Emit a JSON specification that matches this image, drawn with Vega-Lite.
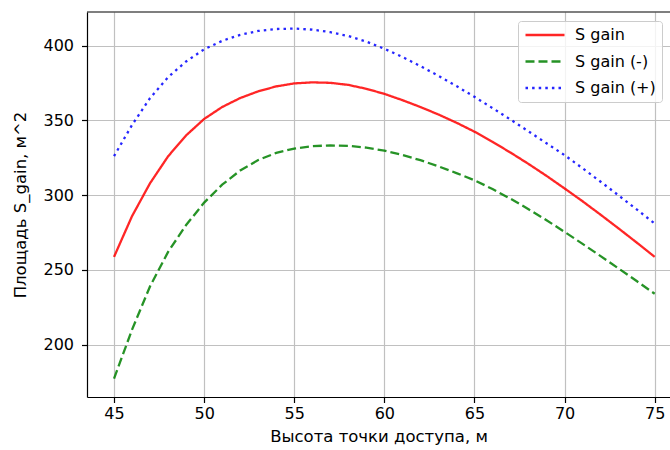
{
  "$schema": "https://vega.github.io/schema/vega-lite/v6.json",
  "width": 583,
  "height": 385,
  "autosize": {"type": "none"},
  "padding": {"left": 87, "top": 12, "right": 0, "bottom": 53},
  "background": "white",
  "config": {
    "view": {"stroke": null},
    "font": "DejaVu Sans",
    "axis": {
      "domainColor": "black",
      "domainWidth": 1.2,
      "tickColor": "black",
      "tickWidth": 1.2,
      "tickSize": 5.5,
      "labelFont": "DejaVu Sans",
      "labelFontSize": 16,
      "labelColor": "black",
      "titleFont": "DejaVu Sans",
      "titleFontSize": 16.5,
      "titleFontWeight": "normal",
      "titleColor": "black",
      "gridColor": "#c0c0c0",
      "gridWidth": 1.2,
      "gridOpacity": 1
    }
  },
  "data": {
    "values": [
      {"h": 45, "S gain": 258.7, "S gain (-)": 177.2, "S gain (+)": 326.1},
      {"h": 46, "S gain": 286.0, "S gain (-)": 210.0, "S gain (+)": 347.0},
      {"h": 47, "S gain": 308.0, "S gain (-)": 239.0, "S gain (+)": 365.0},
      {"h": 48, "S gain": 326.0, "S gain (-)": 262.0, "S gain (+)": 379.0},
      {"h": 49, "S gain": 340.0, "S gain (-)": 280.0, "S gain (+)": 389.5},
      {"h": 50, "S gain": 351.0, "S gain (-)": 295.0, "S gain (+)": 397.6},
      {"h": 51, "S gain": 359.0, "S gain (-)": 307.0, "S gain (+)": 403.3},
      {"h": 52, "S gain": 365.0, "S gain (-)": 316.5, "S gain (+)": 407.3},
      {"h": 53, "S gain": 369.5, "S gain (-)": 323.5, "S gain (+)": 409.9},
      {"h": 54, "S gain": 372.8, "S gain (-)": 328.3, "S gain (+)": 411.2},
      {"h": 55, "S gain": 374.8, "S gain (-)": 331.2, "S gain (+)": 411.5},
      {"h": 56, "S gain": 375.5, "S gain (-)": 332.8, "S gain (+)": 410.8},
      {"h": 57, "S gain": 375.2, "S gain (-)": 333.3, "S gain (+)": 409.1},
      {"h": 58, "S gain": 373.8, "S gain (-)": 333.0, "S gain (+)": 406.5},
      {"h": 59, "S gain": 371.2, "S gain (-)": 331.8, "S gain (+)": 402.8},
      {"h": 60, "S gain": 367.8, "S gain (-)": 329.8, "S gain (+)": 398.0},
      {"h": 61, "S gain": 363.6, "S gain (-)": 326.9, "S gain (+)": 392.5},
      {"h": 62, "S gain": 359.0, "S gain (-)": 323.4, "S gain (+)": 386.4},
      {"h": 63, "S gain": 354.0, "S gain (-)": 319.3, "S gain (+)": 379.9},
      {"h": 64, "S gain": 348.5, "S gain (-)": 314.8, "S gain (+)": 373.0},
      {"h": 65, "S gain": 342.5, "S gain (-)": 310.0, "S gain (+)": 365.8},
      {"h": 66, "S gain": 335.7, "S gain (-)": 304.1, "S gain (+)": 358.3},
      {"h": 67, "S gain": 328.5, "S gain (-)": 297.6, "S gain (+)": 350.6},
      {"h": 68, "S gain": 320.9, "S gain (-)": 290.6, "S gain (+)": 342.7},
      {"h": 69, "S gain": 312.9, "S gain (-)": 283.2, "S gain (+)": 334.7},
      {"h": 70, "S gain": 304.5, "S gain (-)": 275.4, "S gain (+)": 326.8},
      {"h": 71, "S gain": 295.9, "S gain (-)": 267.4, "S gain (+)": 318.0},
      {"h": 72, "S gain": 286.9, "S gain (-)": 259.2, "S gain (+)": 309.0},
      {"h": 73, "S gain": 277.7, "S gain (-)": 250.9, "S gain (+)": 299.8},
      {"h": 74, "S gain": 268.3, "S gain (-)": 242.5, "S gain (+)": 290.5},
      {"h": 75, "S gain": 258.7, "S gain (-)": 234.0, "S gain (+)": 281.0}
    ]
  },
  "layer": [
    {
      "transform": [{"fold": ["S gain", "S gain (-)", "S gain (+)"], "as": ["series", "value"]}],
      "mark": {"type": "line", "strokeWidth": 2.3, "opacity": 0.85, "strokeCap": "butt", "clip": true},
      "encoding": {
        "x": {
          "field": "h",
          "type": "quantitative",
          "scale": {"domain": [43.5, 75.85], "nice": false, "zero": false},
          "axis": {
            "values": [45, 50, 55, 60, 65, 70, 75],
            "title": "Высота точки доступа, м",
            "labelPadding": 3,
            "titlePadding": 7
          }
        },
        "y": {
          "field": "value",
          "type": "quantitative",
          "scale": {"domain": [164.9, 422.6], "nice": false, "zero": false},
          "axis": {
            "values": [200, 250, 300, 350, 400],
            "title": "Площадь S_gain, м^2",
            "labelPadding": 8,
            "titlePadding": 14
          }
        },
        "color": {
          "field": "series",
          "type": "nominal",
          "scale": {"domain": ["S gain", "S gain (-)", "S gain (+)"], "range": ["#ff0000", "#008000", "#0000ff"]},
          "legend": {
            "title": null,
            "orient": "none",
            "legendX": 431,
            "legendY": 9,
            "symbolType": "M-1,0H5",
            "symbolSize": 169,
            "symbolStrokeWidth": 2.3,
            "symbolOpacity": 0.85,
            "labelOffset": 35,
            "labelFontSize": 16,
            "labelColor": "black",
            "labelFont": "DejaVu Sans",
            "padding": 6,
            "rowPadding": 10.5,
            "strokeColor": "#cccccc",
            "fillColor": "rgba(255,255,255,0.8)",
            "cornerRadius": 3
          }
        },
        "strokeDash": {
          "field": "series",
          "type": "nominal",
          "scale": {"domain": ["S gain", "S gain (-)", "S gain (+)"], "range": [[1, 0], [9, 4], [2.5, 4.1]]},
          "legend": {
            "title": null,
            "orient": "none",
            "legendX": 431,
            "legendY": 9,
            "symbolType": "M-1,0H5",
            "symbolSize": 169,
            "symbolStrokeWidth": 2.3,
            "symbolOpacity": 0.85,
            "labelOffset": 35,
            "labelFontSize": 16,
            "labelColor": "black",
            "labelFont": "DejaVu Sans",
            "padding": 6,
            "rowPadding": 10.5,
            "strokeColor": "#cccccc",
            "fillColor": "rgba(255,255,255,0.8)",
            "cornerRadius": 3
          }
        }
      }
    },
    {
      "data": {"values": [{}]},
      "mark": {"type": "rule", "color": "black", "strokeWidth": 1.2},
      "encoding": {"y": {"datum": 422.6}}
    }
  ]
}
